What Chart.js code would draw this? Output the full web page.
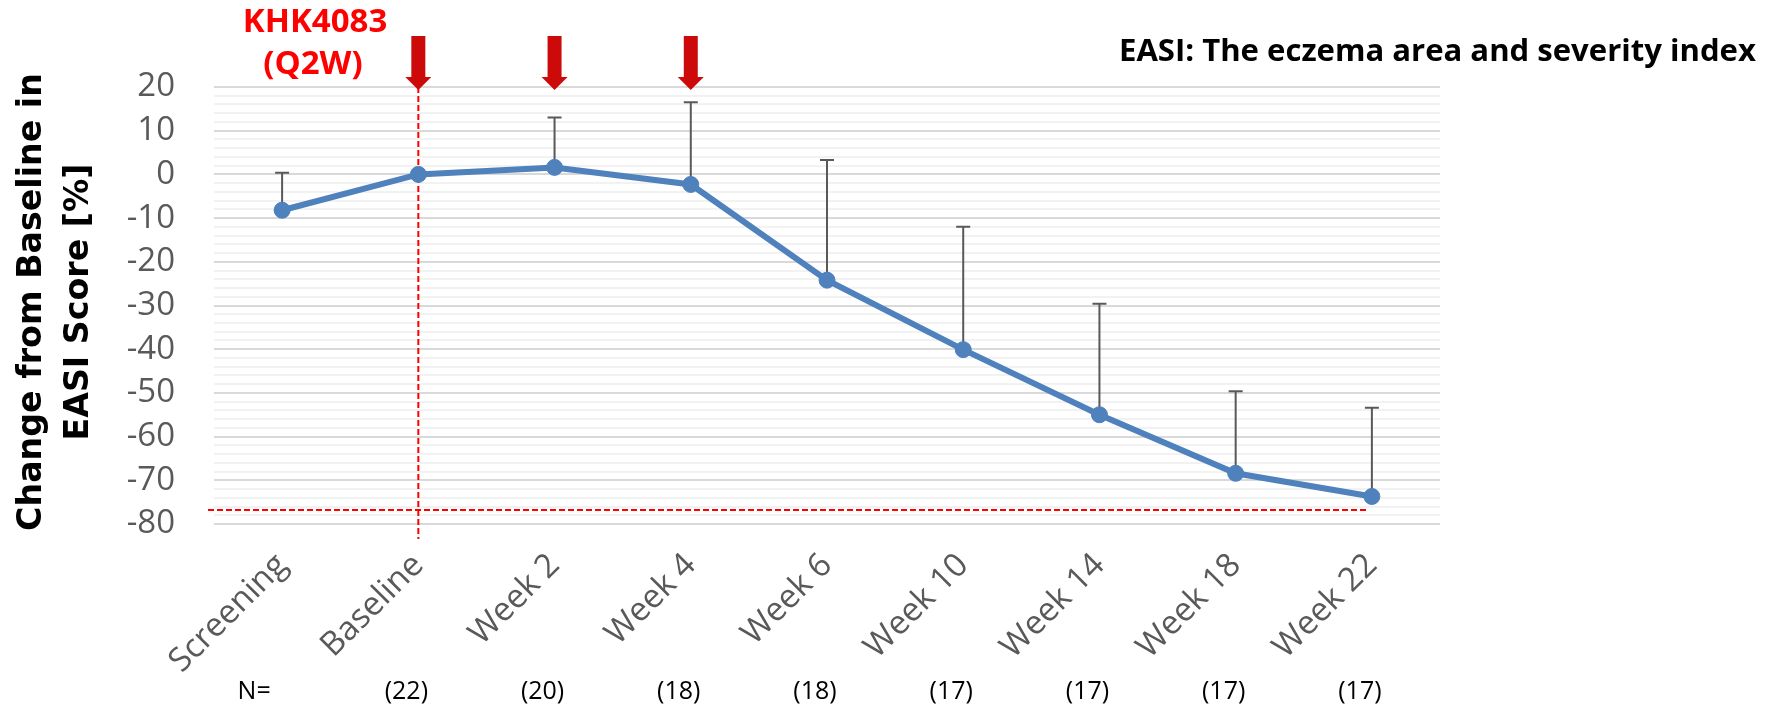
<!DOCTYPE html>
<html>
<head>
<meta charset="utf-8">
<script src="https://cdn.jsdelivr.net/npm/chart.js@4.4.1/dist/chart.umd.min.js"></script>
<style>
  html, body { margin: 0; padding: 0; background: #ffffff; }
  #wrap { width: 1783px; height: 710px; position: relative; }
</style>
</head>
<body>
<div id="wrap"><canvas id="easi" width="1783" height="710"></canvas></div>
<script>
// Visits on the x axis
const categories = ['Screening', 'Baseline', 'Week 2', 'Week 4', 'Week 6', 'Week 10', 'Week 14', 'Week 18', 'Week 22'];
// Mean % change from baseline in EASI score
const meanChange = [-8.2, 0, 1.6, -2.3, -24.2, -40.1, -55.0, -68.4, -73.7];
// Upper error bar length (SD) for each visit
const sdUpper = [8.6, 0, 11.4, 18.8, 27.5, 28.1, 25.4, 18.8, 20.3];
// Number of patients per visit
const nPatients = [null, 22, 20, 18, 18, 17, 17, 17, 17];
// Visits with a KHK4083 dose
const doseVisits = ['Baseline', 'Week 2', 'Week 4'];
// Horizontal reference level (dashed red)
const referenceLevel = -76.8;
// Y axis range and tick spacing
const yMin = -80, yMax = 20, yMinorStep = 2, yMajorStep = 10;

const TEXT_GREY = '#595959';
const LINE_BLUE = '#4F81BD';
const RED = '#ff0000';
const ARROW_RED = '#cd0a0a';

function fitFont(ctx, text, weight, family, targetWidth) {
  ctx.font = weight + ' 40px ' + family;
  const w = ctx.measureText(text).width;
  const size = 40 * targetWidth / w;
  return weight + ' ' + size.toFixed(2) + 'px ' + family;
}

const decorations = {
  id: 'decorations',
  beforeDatasetsDraw(chart) {
    const { ctx, chartArea, scales: { x, y } } = chart;
    ctx.save();
    // dashed red reference lines
    ctx.strokeStyle = RED;
    ctx.lineWidth = 2;
    ctx.setLineDash([6, 3]);
    const bx = x.getPixelForValue(categories.indexOf('Baseline'));
    ctx.beginPath();
    ctx.moveTo(bx, chartArea.top);
    ctx.lineTo(bx, chartArea.bottom + 15);
    ctx.stroke();
    const ry = y.getPixelForValue(referenceLevel);
    ctx.beginPath();
    ctx.moveTo(chartArea.left - 6, ry);
    ctx.lineTo(x.getPixelForValue(categories.length - 1) - 5, ry);
    ctx.stroke();
    ctx.setLineDash([]);

    // upper error bars
    ctx.strokeStyle = TEXT_GREY;
    ctx.lineWidth = 2;
    meanChange.forEach((m, i) => {
      const sd = sdUpper[i];
      if (!sd) return;
      const px = x.getPixelForValue(i);
      const y0 = y.getPixelForValue(m);
      const y1 = y.getPixelForValue(m + sd);
      ctx.beginPath();
      ctx.moveTo(px, y0);
      ctx.lineTo(px, y1);
      ctx.moveTo(px - 7, y1);
      ctx.lineTo(px + 7, y1);
      ctx.stroke();
    });
    ctx.restore();
  },
  afterDraw(chart) {
    const { ctx, chartArea, scales: { x } } = chart;
    ctx.save();

    // dosing arrows
    ctx.fillStyle = ARROW_RED;
    doseVisits.forEach(v => {
      const px = x.getPixelForValue(categories.indexOf(v));
      const tip = chartArea.top + 3;
      ctx.fillRect(px - 7, 36, 14, tip - 13 - 36);
      ctx.beginPath();
      ctx.moveTo(px - 13, tip - 13);
      ctx.lineTo(px + 13, tip - 13);
      ctx.lineTo(px, tip);
      ctx.closePath();
      ctx.fill();
    });

    // drug label
    ctx.fillStyle = RED;
    ctx.textAlign = 'center';
    ctx.textBaseline = 'alphabetic';
    ctx.font = 'bold 33px "Open Sans"';
    ctx.fillText('KHK4083', 315, 32);
    ctx.fillText('(Q2W)', 313, 74);

    // chart note
    ctx.fillStyle = '#000000';
    ctx.textAlign = 'left';
    const note = 'EASI: The eczema area and severity index';
    ctx.font = fitFont(ctx, note, 'bold', '"Open Sans"', 637);
    ctx.fillText(note, 1119, 61);

    // y axis title
    const t1 = 'Change from Baseline in';
    const t2 = 'EASI Score [%]';
    ctx.font = fitFont(ctx, t1, 'bold', '"DejaVu Sans"', 458);
    ctx.textAlign = 'center';
    const cy = 302;
    ctx.save();
    ctx.translate(41, cy);
    ctx.rotate(-Math.PI / 2);
    ctx.fillText(t1, 0, 0);
    ctx.restore();
    ctx.save();
    ctx.translate(88, cy);
    ctx.rotate(-Math.PI / 2);
    ctx.fillText(t2, 0, 0);
    ctx.restore();

    // patient counts
    ctx.font = '25px "Open Sans"';
    ctx.textBaseline = 'middle';
    ctx.fillStyle = '#000000';
    ctx.fillText('N=', x.getPixelForValue(0) - 28, 692);
    nPatients.forEach((n, i) => {
      if (n == null) return;
      ctx.fillText('(' + n + ')', x.getPixelForValue(i) - 12, 692);
    });
    ctx.restore();
  }
};

function build() {
  const ctx = document.getElementById('easi');
  new Chart(ctx, {
    type: 'line',
    data: {
      labels: categories,
      datasets: [{
        data: meanChange,
        borderColor: LINE_BLUE,
        backgroundColor: LINE_BLUE,
        borderWidth: 6,
        pointRadius: 8,
        pointHoverRadius: 8,
        pointBackgroundColor: LINE_BLUE,
        pointBorderColor: LINE_BLUE,
        pointBorderWidth: 1,
        tension: 0,
        fill: false
      }]
    },
    options: {
      responsive: false,
      animation: false,
      devicePixelRatio: 1,
      layout: { padding: { left: 0, right: 343, top: 87, bottom: 0 } },
      plugins: { legend: { display: false }, tooltip: { enabled: false }, title: { display: false } },
      scales: {
        x: {
          type: 'category',
          offset: true,
          grid: { display: false, drawTicks: false },
          border: { display: false },
          afterFit(s) { s.height = 186; },
          ticks: {
            autoSkip: false,
            minRotation: 45,
            maxRotation: 45,
            padding: 22,
            color: TEXT_GREY,
            font: { family: '"Open Sans"', size: 33 }
          }
        },
        y: {
          min: yMin,
          max: yMax,
          afterFit(s) { s.width = 214; },
          grid: {
            drawTicks: false,
            lineWidth: 2,
            color: c => (c.tick && c.tick.value % yMajorStep === 0) ? '#d9d9d9' : '#f2f2f2'
          },
          border: { display: false },
          ticks: {
            stepSize: yMinorStep,
            autoSkip: false,
            padding: 39,
            color: TEXT_GREY,
            font: { family: '"Open Sans"', size: 33 },
            callback: v => (v % yMajorStep === 0 ? v : '')
          }
        }
      }
    },
    plugins: [decorations]
  });
}

Promise.all([
  document.fonts.load('31px "Open Sans"'),
  document.fonts.load('bold 32px "Open Sans"'),
  document.fonts.load('bold 32px "DejaVu Sans"')
]).then(build, build);
</script>
</body>
</html>
